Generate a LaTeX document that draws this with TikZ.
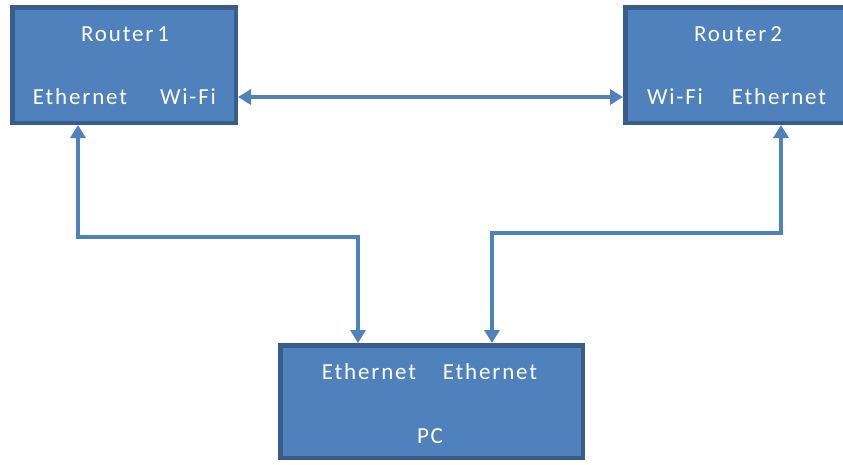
\documentclass[tikz,border=0pt]{standalone}
\usepackage{fontspec}
\setmainfont{Carlito}[LetterSpace=8]
\usetikzlibrary{arrows.meta}

\definecolor{boxfill}{HTML}{4F81BD}
\definecolor{boxline}{HTML}{385D8A}

\begin{document}
\begin{tikzpicture}[x=1pt, y=-1pt,
    device/.style={draw=boxline, fill=boxfill, rectangle, line width=4.5pt,
                   minimum width=223.5pt, minimum height=115.5pt, inner sep=0pt},
    port/.style={text=white, font=\fontsize{23}{25}\selectfont, inner sep=0pt},
    link/.style={draw=boxfill, line width=4pt,
                 {Triangle[width=15pt,length=13pt]}-{Triangle[width=15pt,length=13pt]}}]
  \clip (0,0) rectangle (843,464);

  % devices
  \node[device] (r1) at (124,65) {};
  \node[device] (r2) at (737,65) {};
  \node[device, minimum width=302.5pt, minimum height=112.5pt] (pc) at (431.5,401.5) {};

  % labels
  \node[port] (r1name) at (125,34) {Router\,1};
  \node[port] (r1eth)  at (80,97)  {Ethernet};
  \node[port] (r1wifi) at (188,97) {Wi-Fi};
  \node[port] (r2name) at (738,34) {Router\,2};
  \node[port] (r2wifi) at (675,97) {Wi-Fi};
  \node[port] (r2eth)  at (779,97) {Ethernet};
  \node[port] (pceth1) at (369,372) {Ethernet};
  \node[port] (pceth2) at (490,372) {Ethernet};
  \node[port] (pcname) at (430,436) {PC};

  % cabling
  \coordinate (bendL) at (78,237);
  \coordinate (bendR) at (781,233);
  \draw[link] (r1wifi -| r1.east) -- (r2wifi -| r2.west);
  \draw[link] (r1.south -| bendL) -- (bendL) -| ([xshift=80pt]pc.north west);
  \draw[link] (r2.south -| bendR) -- (bendR) -| ([xshift=214pt]pc.north west);
\end{tikzpicture}
\end{document}
